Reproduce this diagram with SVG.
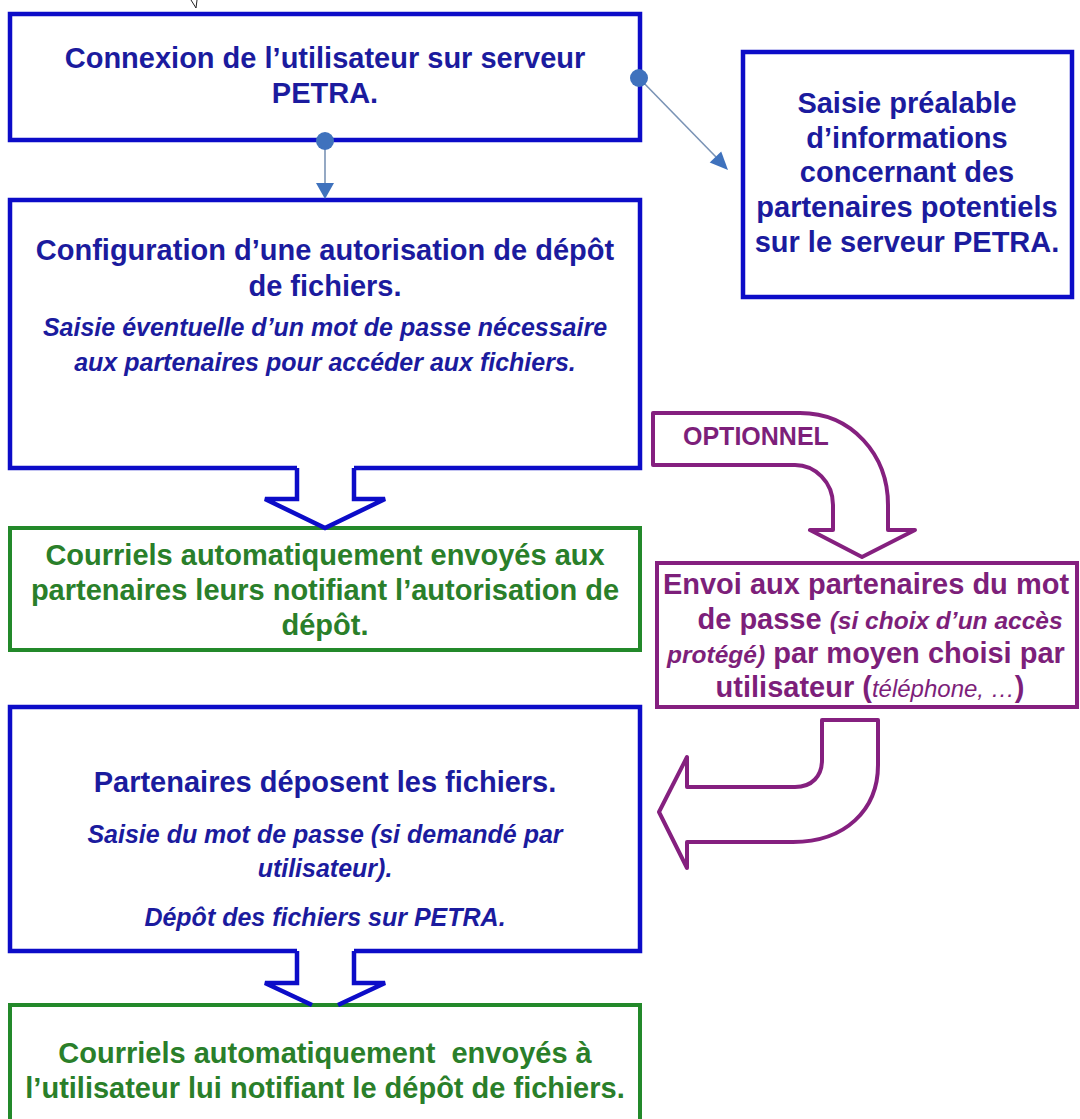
<svg xmlns="http://www.w3.org/2000/svg" width="1080" height="1119" viewBox="0 0 1080 1119">
<style>
.bg{fill:#ffffff}
.bbox{fill:#ffffff;stroke:#0c0cc8;stroke-width:4.5}
.gbox{fill:#ffffff;stroke:#23892a;stroke-width:4}
.pbox{fill:#ffffff;stroke:#85207f;stroke-width:4}
text{font-family:"Liberation Sans",Arial,sans-serif;text-anchor:middle}
.bt{fill:#1b1b9e;font-size:29px;font-weight:bold}
.bi{fill:#1b1b9e;font-size:25px;font-weight:bold;font-style:italic}
.gt{fill:#2a7f2a;font-size:29px;font-weight:bold}
.pt{fill:#7d1f7a;font-size:29px;font-weight:bold}
.pbi{font-size:24.5px;font-weight:bold;font-style:italic}
.pri{font-size:24px;font-weight:normal;font-style:italic}
.opt{fill:#7d1f7a;font-size:25px;font-weight:bold;text-anchor:start}
.barrow{fill:#ffffff;stroke:#0c0cc8;stroke-width:4.5;stroke-linejoin:miter}
.parrow{fill:#ffffff;stroke:#85207f;stroke-width:4;stroke-linejoin:round}
.dot{fill:#3f72bd}
.thin{stroke:#7a93b5;stroke-width:1.6;fill:none}
</style>
<rect class="bg" x="0" y="0" width="1080" height="1119"/>
<path d="M191,0 L196,8 L197,0" fill="none" stroke="#222" stroke-width="1"/>

<g id="n1">
<rect class="bbox" x="10" y="14" width="630" height="126"/>
<text class="bt" x="325" y="68">Connexion de l’utilisateur sur serveur</text>
<text class="bt" x="325" y="103">PETRA.</text>
</g>

<g id="n2">
<rect class="bbox" x="743" y="52" width="329" height="245"/>
<text class="bt" x="907" y="113">Saisie préalable</text>
<text class="bt" x="907" y="148">d’informations</text>
<text class="bt" x="907" y="182">concernant des</text>
<text class="bt" x="907" y="217">partenaires potentiels</text>
<text class="bt" x="907" y="252">sur le serveur PETRA.</text>
</g>

<g id="n3">
<path class="bbox" d="M297,468 L10,468 L10,200 L640,200 L640,468 L354,468"/>
<text class="bt" x="325" y="260">Configuration d’une autorisation de dépôt</text>
<text class="bt" x="325" y="296">de fichiers.</text>
<text class="bi" x="325" y="336">Saisie éventuelle d’un mot de passe nécessaire</text>
<text class="bi" x="325" y="371">aux partenaires pour accéder aux fichiers.</text>
</g>

<g id="n4">
<rect class="gbox" x="10" y="528" width="630" height="122"/>
<text class="gt" x="325" y="565">Courriels automatiquement envoyés aux</text>
<text class="gt" x="325" y="600">partenaires leurs notifiant l’autorisation de</text>
<text class="gt" x="325" y="635">dépôt.</text>
</g>

<g id="n5">
<rect class="pbox" x="657" y="563" width="420" height="144"/>
<text class="pt" x="866" y="594">Envoi aux partenaires du mot</text>
<text class="pt" x="880" y="629">de passe <tspan class="pbi">(si choix d’un accès</tspan></text>
<text class="pt" x="866" y="663"><tspan class="pbi">protégé)</tspan> par moyen choisi par</text>
<text class="pt" x="870" y="697">utilisateur (<tspan class="pri">téléphone, …</tspan>)</text>
</g>

<g id="n6">
<path class="bbox" d="M297,951 L10,951 L10,707 L640,707 L640,951 L354,951"/>
<text class="bt" x="325" y="792">Partenaires déposent les fichiers.</text>
<text class="bi" x="325" y="843">Saisie du mot de passe (si demandé par</text>
<text class="bi" x="325" y="877">utilisateur).</text>
<text class="bi" x="325" y="926">Dépôt des fichiers sur PETRA.</text>
</g>

<g id="n7">
<path class="gbox" d="M10,1125 L10,1005 L640,1005 L640,1125"/>
<text class="gt" x="325" y="1063" xml:space="preserve">Courriels automatiquement  envoyés à</text>
<text class="gt" x="325" y="1098">l’utilisateur lui notifiant le dépôt de fichiers.</text>
</g>

<g id="connectors">
<line class="thin" x1="325" y1="141" x2="325" y2="184"/>
<circle class="dot" cx="325" cy="141" r="9"/>
<polygon class="dot" points="316,183 334,183 325,199"/>
<line class="thin" x1="639" y1="78" x2="716" y2="157"/>
<circle class="dot" cx="639" cy="78" r="9"/>
<polygon class="dot" points="728,170 709.7,162.6 721.2,151.4"/>
<path class="barrow" d="M297,468 L297,499 L265,499 L325,528 L385,499 L354,499 L354,468"/>
<path class="barrow" d="M297,951 L297,983 L265,983 L312,1005 M338,1005 L385,983 L354,983 L354,951" fill="none"/>
<path class="parrow" d="M653,413 L800,413 C852,413 888,455 888,505 L888,530 L915,530 L862,557 L810,530 L833,530 L833,505 C833,482 815,465 795,465 L653,465 Z"/>
<text class="opt" x="683" y="445">OPTIONNEL</text>
<path class="parrow" d="M822,720 L878,720 L878,765 C878,810 845,842 793,842 L687,842 L687,868 L659,812 L687,757 L687,787 L795,787 C812,787 822,776 822,760 Z"/>
</g>
</svg>
